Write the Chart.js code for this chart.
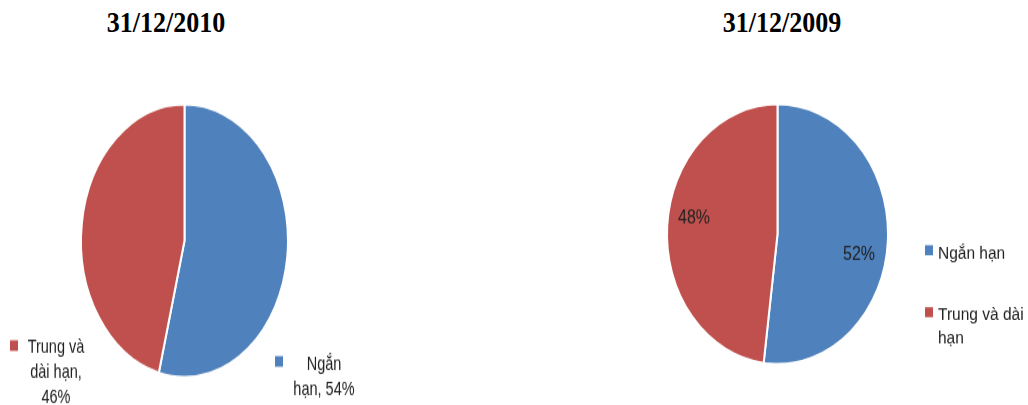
<!DOCTYPE html>
<html>
<head>
<meta charset="utf-8">
<script src="https://cdn.jsdelivr.net/npm/chart.js@4/dist/chart.umd.min.js"></script>
<style>
  body { margin: 0; width: 1028px; height: 405px; background: #fff; position: relative; overflow: hidden; }
  .tieude { position: absolute; top: 8px; width: 300px; text-align: center; color: #000;
            font: bold 26px "Liberation Serif", "Times New Roman", serif; line-height: 1;
            transform: scaleY(1.15); transform-origin: 0 0; }
  canvas { position: absolute; transform-origin: 0 0; }
</style>
</head>
<body>
<div class="tieude" id="tieude0" style="left:16px"></div>
<div class="tieude" id="tieude1" style="left:632px"></div>
<canvas id="pie2010" width="400" height="262" style="left:0;top:60px;transform:scaleY(1.319)"></canvas>
<canvas id="pie2009" width="428" height="293" style="left:600px;top:60px;transform:scaleY(1.176)"></canvas>
<script>
const ngayBaoCao = ['31/12/2010', '31/12/2009'];
const loaiVay = ['Ngắn hạn', 'Trung và dài hạn'];
const tyLe2010 = [54, 46];
const tyLe2009 = [52, 48];
const mauSac = ['#4F81BD', '#C0504D'];

document.getElementById('tieude0').textContent = ngayBaoCao[0];
document.getElementById('tieude1').textContent = ngayBaoCao[1];

// ngắt chữ thành nhiều dòng theo độ rộng tối đa
function ngatDong(ctx, text, rongToiDa) {
    const tu = text.split(' ');
    const dong = [];
    let hienTai = '';
    tu.forEach(t => {
        const thu = hienTai ? hienTai + ' ' + t : t;
        if (hienTai && ctx.measureText(thu).width > rongToiDa) {
            dong.push(hienTai);
            hienTai = t;
        } else {
            hienTai = thu;
        }
    });
    if (hienTai) dong.push(hienTai);
    return dong;
}

// nhãn dữ liệu cạnh từng miếng bánh
const nhanPie = {
    id: 'nhanPie',
    afterDatasetsDraw(chart, args, opts) {
        const ctx = chart.ctx;
        const ds = chart.data.datasets[0];
        const arcs = chart.getDatasetMeta(0).data;
        ctx.save();
        ctx.font = opts.font;
        ctx.textAlign = 'center';
        ctx.textBaseline = 'alphabetic';
        arcs.forEach((arc, i) => {
            const vt = opts.viTri[i];
            const text = opts.coTen ? `${chart.data.labels[i]}, ${ds.data[i]}%` : `${ds.data[i]}%`;
            ctx.fillStyle = opts.color;
            ngatDong(ctx, text, opts.rongToiDa).forEach((d, k) => {
                ctx.fillText(d, arc.x + vt.dx, arc.y + vt.dy + k * opts.khoangDong);
            });
            if (vt.o) {
                ctx.fillStyle = ds.backgroundColor[i];
                ctx.fillRect(arc.x + vt.o.dx, arc.y + vt.o.dy, opts.oRong, opts.oCao);
            }
        });
        ctx.restore();
    }
};

// chú giải bên phải biểu đồ
const chuGiai = {
    id: 'chuGiai',
    afterDraw(chart, args, opts) {
        const ctx = chart.ctx;
        const ds = chart.data.datasets[0];
        ctx.save();
        ctx.font = opts.font;
        ctx.textAlign = 'left';
        ctx.textBaseline = 'alphabetic';
        chart.data.labels.forEach((lb, i) => {
            const y = opts.y + i * opts.buoc;
            ctx.fillStyle = ds.backgroundColor[i];
            ctx.fillRect(opts.x, y - 11, opts.oRong, opts.oCao);
            ctx.fillStyle = opts.color;
            ngatDong(ctx, lb, opts.rongToiDa).forEach((d, k) => {
                ctx.fillText(d, opts.x + 13, y + k * opts.khoangDong);
            });
        });
        ctx.restore();
    }
};

function veBanh(id, duLieu, padding, plugins, pluginOpts) {
    return new Chart(document.getElementById(id), {
        type: 'pie',
        data: {
            labels: loaiVay,
            datasets: [{
                data: duLieu,
                backgroundColor: mauSac,
                borderColor: '#fff',
                borderWidth: 2,
                hoverOffset: 0
            }]
        },
        options: {
            responsive: false,
            animation: false,
            events: [],
            layout: { padding: padding },
            plugins: Object.assign({
                legend: { display: false },
                tooltip: { enabled: false }
            }, pluginOpts)
        },
        plugins: plugins
    });
}

veBanh('pie2010', tyLe2010,
    { left: 80, right: 111, top: 20, bottom: 8 },
    [nhanPie],
    {
        nhanPie: {
            font: '14.5px "Liberation Sans", Arial, sans-serif',
            color: '#222',
            coTen: true,
            rongToiDa: 64,
            khoangDong: 19,
            oRong: 8, oCao: 8,
            viTri: [
                { dx: 139.5, dy: 98, o: { dx: 90.5, dy: 87.5 } },
                { dx: -128.5, dy: 85, o: { dx: -174.5, dy: 75.5 } }
            ]
        }
    });

veBanh('pie2009', tyLe2009,
    { left: 66, right: 139, top: 20, bottom: 17 },
    [nhanPie, chuGiai],
    {
        nhanPie: {
            font: '16px "Liberation Sans", Arial, sans-serif',
            color: '#222',
            coTen: false,
            rongToiDa: 100,
            khoangDong: 19,
            viTri: [
                { dx: 81.5, dy: 22 },
                { dx: -83.5, dy: -9 }
            ]
        },
        chuGiai: {
            font: '15.5px "Liberation Sans", Arial, sans-serif',
            color: '#222',
            x: 325, y: 168.5,
            buoc: 52.7,
            khoangDong: 19.5,
            rongToiDa: 92,
            oRong: 8, oCao: 8.5
        }
    });
</script>
</body>
</html>
